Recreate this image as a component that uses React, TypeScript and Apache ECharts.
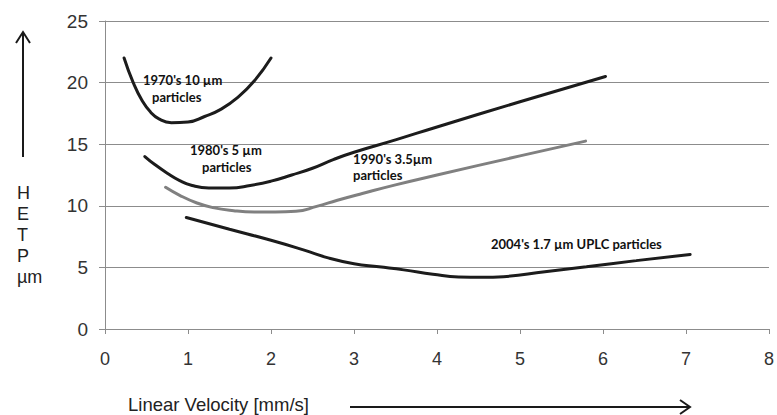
import React, { useEffect, useRef } from "react";
import * as echarts from "echarts";

const xTicks = [0, 1, 2, 3, 4, 5, 6, 7, 8];
const yTicks = [0, 5, 10, 15, 20, 25];

const v1970x = [0.23, 0.34, 0.45, 0.55, 0.65, 0.8, 1.0, 1.2, 1.4, 1.6, 1.8, 2.0];
const v1970y = [22.0, 20.0, 18.5, 17.6, 17.05, 16.75, 16.8, 17.25, 17.85, 18.8, 20.15, 22.0];

const v1980x = [0.48, 0.6, 0.75, 0.9, 1.05, 1.25, 1.5, 1.75, 2.0, 2.25, 2.5, 2.75, 3.0, 3.5, 4.0, 5.0, 6.03];
const v1980y = [14.0, 13.35, 12.65, 12.05, 11.65, 11.45, 11.45, 11.65, 12.0, 12.5, 13.05, 13.75, 14.35, 15.35, 16.4, 18.45, 20.5];

const v1990x = [0.73, 0.9, 1.1, 1.3, 1.55, 1.8, 2.05, 2.3, 2.55, 2.8, 3.1, 3.5, 4.0, 5.0, 5.79];
const v1990y = [11.5, 10.85, 10.25, 9.85, 9.6, 9.5, 9.5, 9.55, 9.95, 10.45, 11.0, 11.7, 12.5, 14.05, 15.25];

const v2004x = [0.98, 1.5, 2.0, 2.4, 2.7, 3.0, 3.3, 3.6, 3.95, 4.26, 4.55, 4.8, 5.3, 5.8, 6.4, 7.05];
const v2004y = [9.05, 8.1, 7.2, 6.4, 5.75, 5.3, 5.05, 4.8, 4.45, 4.22, 4.2, 4.25, 4.65, 5.05, 5.55, 6.05];

const seriesNames = ["1970's 10 µm", "1980's 5 µm", "1990's 3.5 µm", "2004's 1.7 µm UPLC"];
const yNameLetters = ["H", "E", "T", "P", "µm"];
const xName = "Linear Velocity [mm/s]";

const pairs = (xs: number[], ys: number[]) => xs.map((x, i) => [x, ys[i]]);

export default function App() {
  const ref = useRef<HTMLDivElement>(null);
  useEffect(() => {
    if (!ref.current) return;
    const chart = echarts.init(ref.current, undefined, { renderer: "svg" });
    const labelFont = "Lato";
    const lbl = (text: string, x: number, y: number, size = 13) => ({
      type: "text",
      left: x,
      top: y,
      style: { text, font: `bold ${size}px ${labelFont}`, fill: "#111" },
      z: 10,
    });
    const black = "#1c1c1c";
    const gray = "#808080";
    const mk = (name: string, xs: number[], ys: number[], color: string) => ({
      name,
      type: "line",
      data: pairs(xs, ys),
      smooth: 0.5,
      showSymbol: false,
      symbol: "none",
      lineStyle: { color, width: 3, cap: "round" },
      z: 5,
    });
    const axisFont = "Liberation Sans, Arial, sans-serif";
    chart.setOption({
      animation: false,
      backgroundColor: "#fff",
      grid: { left: 105, right: 5, top: 21, bottom: 86, containLabel: false },
      xAxis: {
        type: "value",
        min: 0,
        max: 8,
        interval: 1,
        axisLine: { show: true, lineStyle: { color: "#8c8c8c", width: 1 } },
        axisTick: { show: true, length: 5, lineStyle: { color: "#8c8c8c" } },
        axisLabel: {
          margin: 21,
          color: "#333",
          fontSize: 18,
          fontFamily: axisFont,
          formatter: (v: number) => (xTicks.includes(v) ? String(v) : ""),
        },
        splitLine: { show: false },
      },
      yAxis: {
        type: "value",
        min: 0,
        max: 25,
        interval: 5,
        axisLine: { show: true, lineStyle: { color: "#8c8c8c", width: 1 } },
        axisTick: { show: true, length: 6, lineStyle: { color: "#8c8c8c" } },
        axisLabel: {
          margin: 17,
          color: "#333",
          fontSize: 19,
          fontFamily: axisFont,
          formatter: (v: number) => (yTicks.includes(v) ? String(v) : ""),
        },
        splitLine: { show: true, lineStyle: { color: "#8c8c8c", width: 1 } },
      },
      series: [
        mk(seriesNames[0], v1970x, v1970y, black),
        mk(seriesNames[1], v1980x, v1980y, black),
        mk(seriesNames[2], v1990x, v1990y, gray),
        mk(seriesNames[3], v2004x, v2004y, black),
      ],
      graphic: [
        lbl("1970's 10 µm", 143, 73),
        lbl("particles", 152, 90),
        lbl("1980's 5 µm", 190, 143),
        lbl("particles", 202, 160),
        lbl("1990's 3.5µm", 353, 152),
        lbl("particles", 353, 168),
        lbl("2004's 1.7 µm UPLC particles", 491, 237),
        {
          type: "text",
          left: 17,
          top: 182,
          style: {
            text: yNameLetters.join("\n"),
            font: `18px ${axisFont}`,
            fill: "#222",
            lineHeight: 21,
            align: "center",
          },
        },
        {
          type: "text",
          left: 128,
          top: 395,
          style: {
            text: xName,
            font: `18.5px ${axisFont}`,
            fill: "#222",
          },
        },
        {
          type: "line",
          shape: { x1: 23, y1: 157, x2: 23, y2: 33 },
          style: { stroke: "#1a1a1a", lineWidth: 2 },
        },
        {
          type: "polyline",
          shape: { points: [[16, 43], [23, 32], [30, 43]] },
          style: { stroke: "#1a1a1a", lineWidth: 2, fill: null },
        },
        {
          type: "line",
          shape: { x1: 350, y1: 407, x2: 689, y2: 407 },
          style: { stroke: "#1a1a1a", lineWidth: 2 },
        },
        {
          type: "polyline",
          shape: { points: [[680, 400], [690, 407], [680, 414]] },
          style: { stroke: "#1a1a1a", lineWidth: 2, fill: null },
        },
      ],
    });
    return () => chart.dispose();
  }, []);
  return <div ref={ref} style={{ width: 777, height: 415, position: "absolute", left: 0, top: 0 }} />;
}
